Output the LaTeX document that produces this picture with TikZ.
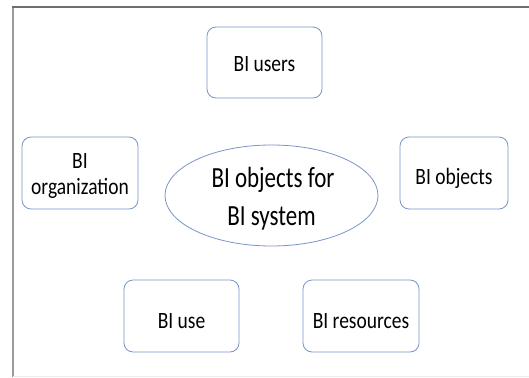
\documentclass[tikz,border=0pt]{standalone}
\usepackage{fontspec}
\usepackage{graphicx}
\setmainfont{Carlito}
\usetikzlibrary{shapes.geometric}
\definecolor{boxblue}{RGB}{120,150,200}
\definecolor{framegray}{RGB}{110,110,110}
\tikzset{
  roundbox/.style={draw=boxblue, line width=0.8pt, rounded corners=9pt, fill=white, inner sep=0pt},
  centreoval/.style={draw=boxblue, line width=0.8pt, ellipse, fill=white, inner sep=0pt},
  boxtext/.style={anchor=base, inner sep=0pt, text=black, font=\fontsize{19.5}{21.7}\selectfont},
  ovaltext/.style={anchor=base, inner sep=0pt, text=black, font=\fontsize{23}{30.7}\selectfont}
}
\newcommand{\bt}[1]{\scalebox{1}[1.2]{#1}}
\newcommand{\ot}[1]{\scalebox{1}[1.27]{#1}}
\begin{document}
\begin{tikzpicture}[x=1pt,y=-1pt]
\useasboundingbox (0,0) rectangle (529,377);
\fill[white] (0,0) rectangle (529,377);
\draw[framegray!70, line width=1.5pt] (13,7) -- (13,377);
\draw[framegray, line width=1.6pt] (12.2,7) -- (529,7);
\draw[black!8, line width=1pt] (13,376) -- (529,376);
\node[roundbox, minimum width=115pt, minimum height=71pt] (users) at (264.5,62.5) {};
\node[roundbox, minimum width=116pt, minimum height=72pt] (org) at (80,173) {};
\node[centreoval, minimum width=213pt, minimum height=101pt] (centre) at (271.5,195.5) {};
\node[roundbox, minimum width=108pt, minimum height=72pt] (objects) at (454,173) {};
\node[roundbox, minimum width=115pt, minimum height=72pt] (use) at (181.5,316) {};
\node[roundbox, minimum width=116pt, minimum height=72pt] (resources) at (361,316) {};
\node[boxtext] (usersT) at (264.5,72) {\bt{BI users}};
\node[boxtext] (orgT1) at (80,168) {\bt{BI}};
\node[boxtext] (orgT2) at (80,194) {\bt{organization}};
\node[ovaltext] (centreT1) at (273,187) {\ot{BI objects for}};
\node[ovaltext] (centreT2) at (271.5,225) {\ot{BI system}};
\node[boxtext] (objectsT) at (454,184) {\bt{BI objects}};
\node[boxtext] (useT) at (181.5,328) {\bt{BI use}};
\node[boxtext] (resourcesT) at (361,328) {\bt{BI resources}};
\end{tikzpicture}
\end{document}
